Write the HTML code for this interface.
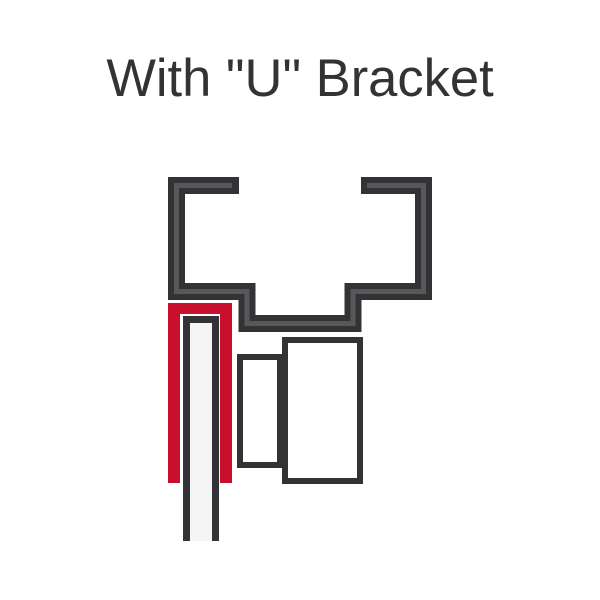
<!DOCTYPE html>
<html><head><style>
html,body{margin:0;padding:0;background:#fff;width:600px;height:600px;overflow:hidden}
</style></head><body>
<svg width="600" height="600" viewBox="0 0 600 600" xmlns="http://www.w3.org/2000/svg">
<rect width="600" height="600" fill="#fff"/>
<text x="300" y="96" text-anchor="middle" font-family="Liberation Sans, Arial, sans-serif" font-size="52.5" fill="#333">With "U" Bracket</text>
<path d="M239,185.5 H176.5 V291.5 H247 V323.5 H353 V291.5 H423.5 V185.5 H361" fill="none" stroke="#333336" stroke-width="17" stroke-linejoin="miter" stroke-linecap="butt"/>
<path d="M232,185.5 H176.5 V291.5 H247 V323.5 H353 V291.5 H423.5 V185.5 H367" fill="none" stroke="#58585a" stroke-width="5" stroke-linejoin="miter"/>
<path d="M168,483 V303 H232 V483 H220 V314 H180 V483 Z" fill="#c8102e"/>
<rect x="183" y="316" width="36" height="225" fill="#f5f5f5"/>
<path d="M186.5,541 V319.5 H215.5 V541" fill="none" stroke="#333336" stroke-width="7"/>
<rect x="240" y="357" width="40" height="108" fill="#fff" stroke="#333336" stroke-width="6"/>
<rect x="285" y="340" width="75" height="141" fill="#fff" stroke="#333336" stroke-width="6"/>
</svg>
</body></html>
